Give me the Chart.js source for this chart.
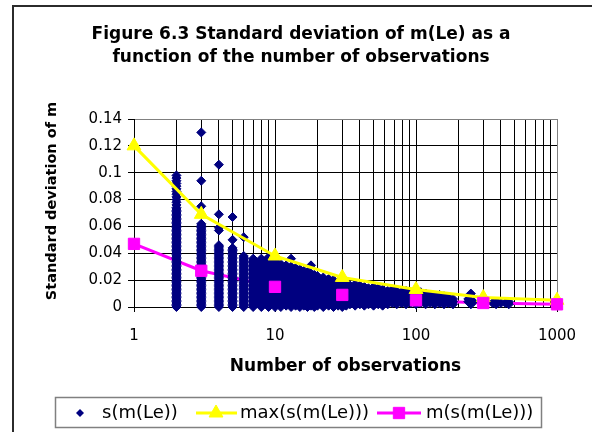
<!DOCTYPE html>
<html><head><meta charset="utf-8">
<script src="https://cdn.jsdelivr.net/npm/chart.js@4.4.1/dist/chart.umd.min.js"></script>
<style>
html,body{margin:0;padding:0;background:#fff;}
canvas{display:block;}
</style></head><body>
<canvas id="c" width="592" height="432"></canvas>
<script>
// ---- text ----
const titleLines = ['Figure 6.3 Standard deviation of m(Le) as a', 'function of the number of observations'];
const yAxisTitle = 'Standard deviation of m';
const xAxisTitle = 'Number of observations';
const seriesNames = ['s(m(Le))', 'max(s(m(Le)))', 'm(s(m(Le)))'];

// ---- axes ----
const xTickValues = [1,2,3,4,5,6,7,8,9,10,20,30,40,50,60,70,80,90,100,200,300,400,500,600,700,800,900,1000];
const xTickLabels = ['1','10','100','1000'];
const yTickValues = [0,0.02,0.04,0.06,0.08,0.1,0.12,0.14];
const yTickLabels = ['0','0.02','0.04','0.06','0.08','0.1','0.12','0.14'];

// ---- summary series ----
const summaryN = [1,3,10,30,100,300,1000];
const maxSD  = [0.12,0.069,0.038,0.022,0.013,0.007,0.005];
const meanSD = [0.047,0.027,0.015,0.009,0.005,0.003,0.002];

// ---- s(m(Le)) observations: [number of observations, values in thousandths] ----
const sdByN = [
 [2,[0,1,2,3,4,5,6,7,8,9,10,11,12,13,14,15,16,17,18,19,20,21,22,23,24,25,26,27,28,29,30,31,32,33,34,35,36,37,38,39,40,41,42,43,44,45,46,47,48,49,50,51,52,53,54,55,56,57,58,59,60,61,62,63,64,65,66,67,68,69,70,71,72,73,74,76,78,80,82,84,86,88,90,92,94,96,98]],
 [3,[0,1,2,3,4,5,6,7,8,9,10,11,12,13,14,15,16,17,18,19,20,21,22,23,24,25,26,27,28,29,30,31,32,33,34,35,36,37,38,39,40,41,42,43,44,45,46,47,48,49,50,51,52,53,54,55,56,57,58,59,60,61,62,75,94,130]],
 [4,[0,1,2,3,4,5,6,7,8,9,10,11,12,13,14,15,16,17,18,19,20,21,22,23,24,25,26,27,28,29,30,31,32,33,34,35,36,37,38,39,40,41,42,43,44,45,46,57,59,69,106]],
 [5,[0,1,2,3,4,5,6,7,8,9,10,11,12,13,14,15,16,17,18,19,20,21,22,23,24,25,26,27,28,29,30,31,32,33,34,35,36,37,38,39,40,41,42,43,44,50,67]],
 [6,[0,1,2,3,4,5,6,7,8,9,10,11,12,13,14,15,16,17,18,19,20,21,22,23,24,25,26,27,28,29,30,31,32,33,34,35,36,37,38,52]],
 [7,[0,1,2,3,4,5,6,7,8,9,10,11,12,13,14,15,16,17,18,19,20,21,22,23,24,25,26,27,28,29,30,31,32,33,34,35,36]],
 [8,[0,1,2,3,4,5,6,7,8,9,10,11,12,13,14,15,16,17,18,19,20,21,22,23,24,25,26,27,28,29,30,31,32,33,34,35,36]],
 [9,[0,1,2,3,4,5,6,7,8,9,10,11,12,13,14,15,16,17,18,19,20,21,22,23,24,25,26,27,28,29,30,31,32,33,34,35,36,37]],
 [10,[0,1,2,3,4,5,6,7,8,9,10,11,12,13,14,15,16,17,18,19,20,21,22,23,24,25,26,27,28,29,30,31,32,33,34,35,36,37]],
 [11,[0,2,4,6,8,10,12,14,16,18,20,22,24,26,28,30,32]],
 [12,[1,3,5,7,9,11,13,15,17,19,21,23,25,27,29,31]],
 [13,[0,2,4,6,8,10,12,14,16,18,20,22,24,26,28,30,36]],
 [14,[1,3,5,7,9,11,13,15,17,19,21,23,25,27,29]],
 [15,[0,2,4,6,8,10,12,14,16,18,20,22,24,26,28]],
 [16,[1,3,5,7,9,11,13,15,17,19,21,23,25,27]],
 [17,[0,2,4,6,8,10,12,14,16,18,20,22,24,26]],
 [18,[1,3,5,7,9,11,13,15,17,19,21,23,25,31]],
 [19,[0,2,4,6,8,10,12,14,16,18,20,22,24]],
 [20,[1,3,5,7,9,11,13,15,17,19,21,23]],
 [22,[0,2,4,6,8,10,12,14,16,18,20,22]],
 [24,[1,3,5,7,9,11,13,15,17,19,21]],
 [26,[0,2,4,6,8,10,12,14,16,18,20]],
 [28,[1,3,5,7,9,11,13,15,17,19]],
 [30,[0,2,4,6,8,10,12,14,16,18]],
 [32,[1,3,5,7,9,11,13,15,17]],
 [34,[2,4,6,8,10,12,14,16]],
 [37,[1,3,5,7,9,11,13,15,17]],
 [40,[2,4,6,8,10,12,14,16]],
 [43,[1,3,5,7,9,11,13,15]],
 [46,[2,4,6,8,10,12,14]],
 [50,[1,3,5,7,9,11,13,15]],
 [54,[2,4,6,8,10,12,14]],
 [58,[1,3,5,7,9,11,13]],
 [63,[2,4,6,8,10,12]],
 [68,[3,5,7,9,11,13]],
 [73,[2,4,6,8,10,12]],
 [79,[3,5,7,9,11]],
 [85,[2,4,6,8,10,12]],
 [92,[3,5,7,9,11]],
 [100,[2,4,6,8,10]],
 [108,[3,5,7,9,11]],
 [117,[2,4,6,8,10]],
 [126,[3,5,7,9]],
 [136,[2,4,6,8]],
 [147,[3,5,7,9]],
 [158,[2,4,6,8]],
 [170,[3,5,7]],
 [183,[2,4,6]],
 [235,[4,6]],
 [245,[2,10]],
 [255,[4]],
 [350,[3]],
 [370,[2,4]],
 [400,[3]],
 [430,[3]],
 [455,[2,4]]
];

// ---- build datasets ----
const scatterPoints = [];
sdByN.forEach(([n, vals]) => vals.forEach(v => scatterPoints.push({x: n, y: v / 1000})));
const maxPoints = summaryN.map((n, i) => ({x: n, y: maxSD[i]}));
const meanPoints = summaryN.map((n, i) => ({x: n, y: meanSD[i]}));

const NAVY = '#000080', YELLOW = '#ffff00', MAGENTA = '#ff00ff';
const FONT = 'DejaVu Sans';

const framePlugin = {
  id: 'frame',
  beforeDraw(chart) {
    const c = chart.ctx;
    c.save();
    c.fillStyle = '#fff';
    c.fillRect(0, 0, chart.width, chart.height);
    c.strokeStyle = '#2b2b2b';
    c.lineWidth = 2;
    c.strokeRect(13, 6, 800, 800);
    c.restore();
  },
  afterDraw(chart) {
    const c = chart.ctx;
    c.save();
    // y axis title
    c.translate(52, 201);
    c.rotate(-Math.PI / 2);
    c.font = 'bold 14.5px "' + FONT + '"';
    c.fillStyle = '#000';
    c.textAlign = 'center';
    c.textBaseline = 'middle';
    c.fillText(yAxisTitle, 0, 0);
    c.restore();

    // legend
    c.save();
    c.strokeStyle = '#808080';
    c.lineWidth = 1.5;
    c.strokeRect(55.5, 397.5, 486, 30);
    const ly = 413;
    // item 1
    c.fillStyle = NAVY; c.strokeStyle = NAVY;
    Chart.helpers.drawPoint(c, {pointStyle: 'rectRot', radius: 4, borderWidth: 0}, 80, ly);
    c.font = '18px "' + FONT + '"';
    c.fillStyle = '#000';
    c.textBaseline = 'middle';
    c.textAlign = 'left';
    c.fillText(seriesNames[0], 102, ly);
    // item 2
    c.strokeStyle = YELLOW; c.lineWidth = 3;
    c.beginPath(); c.moveTo(196, ly); c.lineTo(237, ly); c.stroke();
    c.fillStyle = YELLOW; c.lineWidth = 1;
    Chart.helpers.drawPoint(c, {pointStyle: 'triangle', radius: 8, borderWidth: 1}, 216, ly);
    c.fillStyle = '#000';
    c.fillText(seriesNames[1], 240, ly);
    // item 3
    c.strokeStyle = MAGENTA; c.lineWidth = 3;
    c.beginPath(); c.moveTo(377, ly); c.lineTo(421, ly); c.stroke();
    c.fillStyle = MAGENTA; c.lineWidth = 1;
    Chart.helpers.drawPoint(c, {pointStyle: 'rect', radius: 8, borderWidth: 1}, 399, ly);
    c.fillStyle = '#000';
    c.fillText(seriesNames[2], 426, ly);
    c.restore();
  }
};

new Chart(document.getElementById('c'), {
  type: 'scatter',
  data: {
    datasets: [
      {label: seriesNames[0], data: scatterPoints, showLine: false, pointStyle: 'rectRot',
       pointRadius: 4.5, borderWidth: 1, backgroundColor: NAVY, borderColor: NAVY, order: 3, clip: false},
      {label: seriesNames[1], data: maxPoints, showLine: true, pointStyle: 'triangle',
       pointRadius: 8, borderWidth: 3, pointBorderWidth: 1, backgroundColor: YELLOW, borderColor: YELLOW, order: 2, clip: false},
      // mean series: connecting line lies beneath the scatter, markers on top
      {label: seriesNames[2], data: meanPoints, showLine: true, pointRadius: 0,
       borderWidth: 3, borderColor: MAGENTA, backgroundColor: MAGENTA, order: 4, clip: false},
      {label: seriesNames[2], data: meanPoints, showLine: false, pointStyle: 'rect',
       pointRadius: 8, borderWidth: 1, backgroundColor: MAGENTA, borderColor: MAGENTA, order: 1, clip: false}
    ]
  },
  options: {
    responsive: false, animation: false, devicePixelRatio: 1,
    layout: {padding: {left: 45, right: 35, top: 0, bottom: 47}},
    plugins: {
      legend: {display: false},
      tooltip: {enabled: false},
      title: {display: true, text: titleLines, color: '#000',
        font: {family: FONT, weight: 'bold', size: 17, lineHeight: '23px'},
        padding: {top: 23.5, bottom: 49.5}}
    },
    scales: {
      x: {
        type: 'logarithmic', min: 1, max: 1000,
        afterBuildTicks: s => { s.ticks = xTickValues.map(v => ({value: v})); },
        afterFit: s => { s.height = 78; },
        ticks: {autoSkip: false, maxRotation: 0, padding: 15, color: '#000',
          font: {family: FONT, size: 15},
          callback: v => { const l = String(v); return xTickLabels.includes(l) ? l : ''; }},
        grid: {color: c => c.tick && c.tick.value === 1000 ? '#808080' : '#000', lineWidth: 1,
          tickLength: 5,
          tickColor: c => c.tick && xTickLabels.includes(String(c.tick.value)) ? '#000' : 'rgba(0,0,0,0)'},
        border: {color: '#000', width: 1},
        title: {display: true, text: xAxisTitle, color: '#000',
          font: {family: FONT, weight: 'bold', size: 17}, padding: {top: 0, bottom: 8}}
      },
      y: {
        min: 0, max: 0.14,
        afterBuildTicks: s => { s.ticks = yTickValues.map(v => ({value: v})); },
        afterFit: s => { s.width = 89; },
        ticks: {padding: 6, color: '#000', font: {family: FONT, size: 15},
          callback: v => yTickLabels[yTickValues.indexOf(v)] ?? ''},
        grid: {color: c => c.tick && c.tick.value === 0.14 ? '#808080' : '#000', lineWidth: 1,
          tickLength: 6, tickColor: '#000'},
        border: {color: '#000', width: 1}
      }
    }
  },
  plugins: [framePlugin]
});
</script>
</body></html>
